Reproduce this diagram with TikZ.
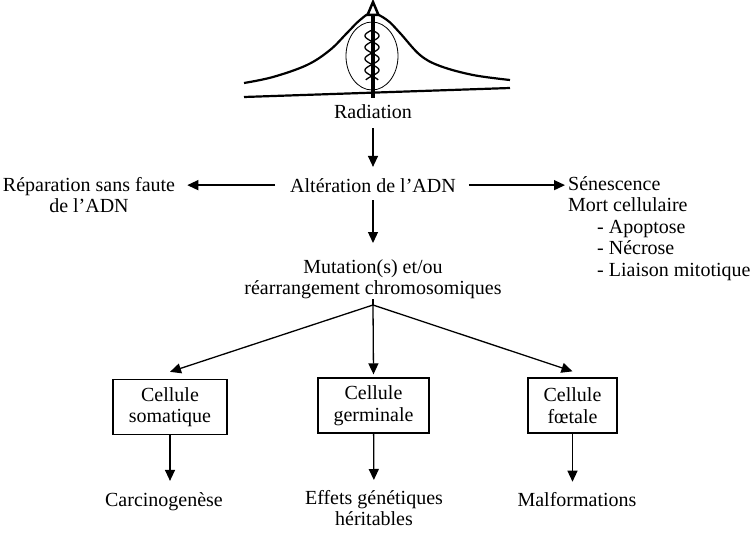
\documentclass[tikz,border=0pt]{standalone}
\usepackage{fontspec}
\setmainfont{Liberation Serif}
\usepackage{xcolor}
\usetikzlibrary{arrows.meta}

\begin{document}
\begin{tikzpicture}[x=1pt, y=-1pt,
    every node/.style={font=\fontsize{20}{21.5}\selectfont, align=center, inner sep=0pt},
    arr/.style={line width=1.3pt, -{Triangle[width=10pt,length=11pt]}},
    cellbox/.style={draw, line width=1.3pt, minimum height=55pt}]
    \useasboundingbox (0,0) rectangle (756,535);

    \draw[line width=2.2pt] (244,97) -- (510,88);
    \draw[line width=2.2pt] plot[smooth, tension=0.6] coordinates {(244,83) (273,77) (307,65) (330,50) (347,33) (360,20) (372,13) (387,20) (400,33) (420,55) (440,66) (473,75) (510,80)};
    \draw[line width=0.8pt] (372,56) ellipse [x radius=26, y radius=34];
    \foreach \s in {1,-1}
        \draw[line width=1.3pt] plot[domain=30:80, samples=80, smooth, variable=\t] ({372+\s*7*sin(15.65*(\t-30))}, \t);
    \draw[line width=4pt] (373,98) -- (373,15);
    \draw[line width=2.5pt, fill=white, line join=miter] (367.5,15) -- (378.5,15) -- (373,2) -- cycle;

    \node (Rad) [anchor=base] at (373,119) {Radiation};
    \node (Alt) [anchor=base] at (373,192) {Altération de l’ADN};
    \node (Rep) [anchor=north] at (89,177) {Réparation sans faute\\de l’ADN};
    \node (Sen) [anchor=north west, align=left] at (568,176) {Sénescence\\Mort cellulaire\\\hspace*{29pt}- Apoptose\\\hspace*{29pt}- Nécrose\\\hspace*{29pt}- Liaison mitotique};
    \node (Mut) [anchor=north] at (373,259) {Mutation(s) et/ou\\réarrangement chromosomiques};
    \coordinate (F) at (373,305);

    \node (Som) [cellbox, minimum width=114pt] at (170,407) {Cellule\\somatique};
    \node (Ger) [cellbox, minimum width=111pt] at (373.5,405.5) {Cellule\\germinale};
    \node (Foe) [cellbox, minimum width=89pt] at (572.5,405.5) {Cellule\\fœtale};

    \node (Car) [anchor=base] at (164,506) {Carcinogenèse};
    \node (Eff) [anchor=north] at (374,490) {Effets génétiques\\héritables};
    \node (Mal) [anchor=base] at (577,506) {Malformations};

    \draw[arr, shorten <=9pt, shorten >=11pt] (Rad) -- (Alt);
    \draw[arr, shorten <=8pt, shorten >=16pt] (Alt) -- (Mut);
    \draw[arr, shorten <=15pt, shorten >=12pt] (Alt.west) -- (Alt.west -| Rep.east);
    \draw[arr, shorten <=13pt, shorten >=3pt] (Alt.east) -- (Alt.east -| Sen.west);

    \draw[line width=1.3pt] (Mut.south) -- (F);
    \draw[arr] (F) -- ([yshift=7pt]Som.north);
    \draw[arr] (F) -- ([yshift=3pt]Ger.north);
    \draw[arr] (F) -- ([yshift=6pt]Foe.north);

    \draw[arr, shorten >=11pt] (Som.south) -- (Som.south |- Car.north);
    \draw[arr, shorten >=10pt] (Ger) -- (Eff);
    \draw[arr, shorten >=10pt] (Foe.south) -- (Foe.south |- Mal.north);
\end{tikzpicture}
\end{document}
